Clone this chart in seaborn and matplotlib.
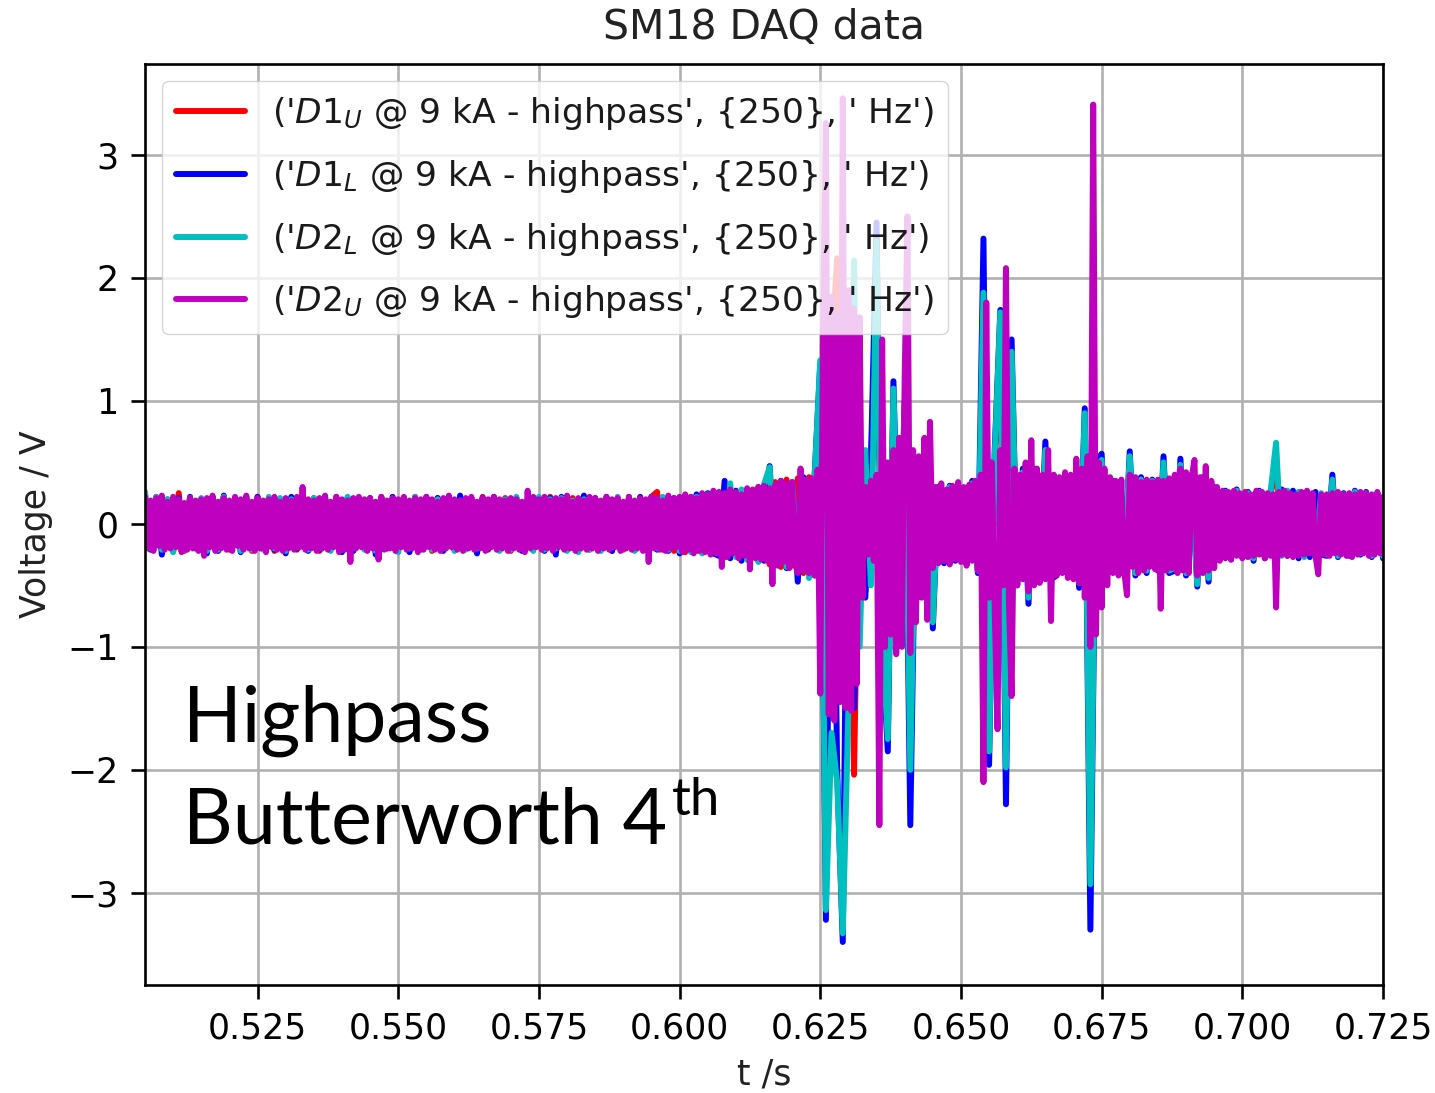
import numpy as np
import pandas as pd
import matplotlib
matplotlib.use("Agg")
import matplotlib.pyplot as plt
import seaborn as sns

# ---------------- data ----------------
T_START, T_END = 0.505, 0.725
STEP_FINE = 0.0005     # sampling used for D2_U trace
STEP_COARSE = 0.001    # sampling used for the other traces

labels = [
    "('$D1_U$ @ 9 kA - highpass', {250}, ' Hz')",
    "('$D1_L$ @ 9 kA - highpass', {250}, ' Hz')",
    "('$D2_L$ @ 9 kA - highpass', {250}, ' Hz')",
    "('$D2_U$ @ 9 kA - highpass', {250}, ' Hz')",
]
colors = ["r", "b", "c", "m"]

# values in hundredths of a volt
d1u_cV = [
    21,-20,22,-19,20,-21,25,-22,21,-20,
    20,-21,19,-20,22,-21,20,-19,21,-22,
    22,-20,21,-22,19,-20,21,-21,20,-19,
    21,-22,20,-20,22,-21,19,-22,21,-20,
    19,-21,22,-20,21,-19,20,-22,22,-21,
    20,-22,21,-19,20,-21,22,-20,19,-22,
    22,-21,20,-20,21,-22,19,-21,20,-20,
    21,-20,22,-21,19,-20,21,-22,20,-21,
    20,-19,21,-22,20,-21,22,-20,21,-19,
    22,26,-21,20,-22,21,-23,22,-22,23,
    24,-24,25,-27,28,-26,27,-29,28,-30,
    31,-33,34,-35,36,-34,37,-40,38,-42,
    120,-150,140,216,-140,130,-204,70,-55,45,
    200,-90,-160,100,-55,90,-190,38,-45,55,
    -70,28,-29,30,-27,28,-30,32,-36,150,
    -160,50,150,-170,120,-45,40,-55,40,-38,
    55,-40,-38,32,-36,30,-45,80,-250,40,
    48,-36,32,-34,-32,50,-38,34,-36,33,
    -34,46,-36,-34,45,-38,36,-45,34,-40,
    27,-25,25,-26,26,-25,24,-27,25,-26,
    24,50,-25,26,-24,25,-26,23,-25,24,
    -24,30,-25,23,-24,25,-23,24,-25,23,
    -25,
]

d1l_cV = [
    24,-21,20,-25,19,-22,21,-20,22,-19,
    20,-24,21,-22,23,-20,19,-23,21,-20,
    22,-19,20,-21,19,-24,22,-20,21,-22,
    20,-21,22,-20,19,-23,21,-22,20,-19,
    21,-25,19,-20,22,-21,20,-23,21,-20,
    22,-20,21,-22,19,-21,23,-20,20,-24,
    21,-20,22,-21,20,-19,21,-22,19,-20,
    20,-22,21,-25,22,-20,19,-21,23,-20,
    21,-20,22,-22,20,-19,21,-21,22,-20,
    22,-21,20,-22,21,-24,23,-22,24,-23,
    25,-24,-26,35,-28,27,-30,28,-27,30,
    -30,47,-33,35,-36,34,-47,38,-42,40,
    130,-322,150,-200,-340,120,-150,80,-60,50,
    245,-100,-185,116,-60,100,-245,40,-50,67,
    -85,30,-32,31,-30,29,-33,35,-40,232,
    -196,60,174,-228,150,-50,45,-65,45,-40,
    67,-45,-42,36,-40,35,-52,94,-330,50,
    57,-40,35,-38,-36,59,-42,38,-40,36,
    -38,55,-40,-38,53,-42,40,-51,38,-47,
    30,-28,27,-29,28,-27,26,-30,27,-28,
    26,-27,28,-26,27,-28,25,-27,26,-25,
    -26,40,-27,25,-26,27,-25,26,-27,25,
    -28,
]

d2l_cV = [
    26,-20,22,-21,20,-23,19,-21,21,-20,
    21,-22,20,-21,22,-19,21,-22,20,-21,
    19,-21,22,-20,21,-22,20,-19,22,-21,
    21,-20,19,-22,20,-21,22,-20,19,-21,
    20,-22,21,-19,20,-23,21,-20,22,-21,
    21,-21,20,-20,22,-22,19,-21,21,-20,
    20,-19,21,-22,20,-21,22,-20,19,-22,
    22,-21,20,-20,21,-22,19,-23,20,-21,
    20,-22,21,-19,22,-20,21,-22,20,-21,
    21,-20,22,-21,20,-22,21,-23,22,-24,
    24,-23,25,-26,33,-27,28,-29,27,-31,
    32,46,-34,33,-35,34,-37,36,-44,38,
    133,-314,-170,-210,-333,-150,214,-100,60,-50,
    230,-90,-175,110,-60,95,-200,40,-48,60,
    -80,28,-30,30,-28,27,-31,33,-38,188,
    -185,55,172,-198,140,-48,42,-60,42,-40,
    60,-42,-40,34,-38,33,-48,90,-293,45,
    52,-38,34,-36,-34,55,-40,36,-38,35,
    -36,50,-38,-36,48,-40,38,-49,36,-44,
    28,-26,26,-27,27,-26,25,-28,26,-27,
    25,66,-26,27,-25,26,-27,24,-26,25,
    -25,36,-26,24,-25,26,-24,25,-26,24,
    -26,
]

d2u_cV = [
    22,-20,19,-22,21,-18,23,-21,18,-20,22,-19,20,-23,17,-21,21,-20,19,-22,
    20,-26,21,-19,23,-22,18,-20,21,-21,19,-22,22,-18,20,-21,23,-20,18,-22,
    21,-20,19,-23,20,-19,22,-21,18,-22,21,-20,19,-21,22,-19,30,-21,20,-20,
    19,-22,21,-20,23,-21,18,-19,22,-23,20,-21,19,-31,21,-20,22,-19,20,-22,
    21,-20,18,-29,22,-21,19,-20,21,-22,20,-19,22,-21,19,-20,21,-23,20,-21,
    22,-19,20,-21,18,-22,21,-20,23,-19,20,-21,19,-22,21,-20,22,-21,18,-20,
    21,-22,20,-19,22,-21,20,-20,19,-22,21,-20,20,-21,18,-23,27,-20,22,-19,
    20,-21,22,-20,19,-22,21,-19,20,-21,23,-20,18,-22,21,-20,19,-21,22,-20,
    21,-22,19,-20,22,-21,20,-19,21,-22,18,-20,22,-21,19,-20,21,-22,20,-31,
    22,-20,21,-21,19,-22,23,-20,21,-19,22,-23,24,-21,22,-24,21,-22,25,-23,
    24,-25,27,-24,26,-35,25,-27,28,-24,26,-28,24,-26,29,-37,27,-28,30,-29,
    31,-30,29,-49,32,-34,35,-31,33,-36,34,-32,-40,45,-38,36,-40,37,-42,44,
    -138,160,326,-155,185,-160,170,-145,346,-150,190,-152,175,-130,168,-60,30,-25,35,-30,
    40,-245,150,-100,50,-90,60,-106,70,-100,120,250,-105,60,-80,55,-60,70,-78,83,
    -36,30,-32,33,-30,28,-33,31,-29,34,-31,30,-34,32,-30,35,-38,40,-210,180,
    -60,50,-70,-167,60,-50,208,-60,-140,45,-50,40,-45,50,-55,68,-50,45,-48,40,
    -45,60,-79,40,-42,38,-40,42,-44,40,-45,53,-48,45,-60,55,-100,341,-90,50,
    -68,45,-50,38,-40,35,-42,36,-38,-58,40,-35,38,-40,34,-38,36,-35,34,-37,
    36,-69,35,-38,37,-36,40,-40,45,-38,42,-40,38,52,-42,38,-40,47,-38,35,
    -36,30,-30,27,-28,26,-29,27,-26,25,-28,26,-27,24,-26,27,-25,26,-28,25,
    -26,24,-68,26,-25,27,-26,25,-27,24,-26,26,-25,27,-24,25,-26,-41,24,-25,
    24,-26,25,-24,26,-25,24,-26,25,-27,24,-25,26,-24,25,-26,24,-25,26,-24,
    22,
]

x_ticks = [0.525, 0.550, 0.575, 0.600, 0.625, 0.650, 0.675, 0.700, 0.725]
y_ticks = [-3, -2, -1, 0, 1, 2, 3]

# ---------------- build frames ----------------
def make_frame(cv, step):
    n = len(cv)
    t = np.round(T_START + step * np.arange(n), 6)
    return pd.DataFrame({"t": t, "V": np.asarray(cv, dtype=float) / 100.0})

series = [
    make_frame(d1u_cV, STEP_COARSE),
    make_frame(d1l_cV, STEP_COARSE),
    make_frame(d2l_cV, STEP_COARSE),
    make_frame(d2u_cV, STEP_FINE),
]

# ---------------- style ----------------
sns.set_style("ticks")
plt.rcParams["font.family"] = ["DejaVu Sans"]
plt.rcParams["mathtext.fontset"] = "dejavusans"
for k in ["text.color", "axes.labelcolor", "xtick.color", "ytick.color",
          "xtick.labelcolor", "ytick.labelcolor"]:
    plt.rcParams[k] = "black"

W, H = 1435, 1093
fig = plt.figure(figsize=(W / 100, H / 100), dpi=100)
ax = fig.add_axes([145 / W, 1 - 985 / H, (1383 - 145) / W, (985 - 64) / H])

LW = 4.3
for df, c, lab in zip(series, colors, labels):
    sns.lineplot(data=df, x="t", y="V", color=c, lw=LW, label=lab, ax=ax,
                 sort=False, estimator=None, legend=False)

ax.set_xlim(T_START, T_END)
ax.set_ylim(-3.75, 3.74)
ax.set_xticks(x_ticks)
ax.set_yticks(y_ticks)
ax.grid(True, color="#b0b0b0", lw=1.9)
ax.set_axisbelow(True)
for sp in ax.spines.values():
    sp.set_linewidth(1.9)
    sp.set_color("black")
ax.tick_params(axis="both", length=10, width=1.9, pad=9, labelsize=25,
               colors="black", direction="out")

ax.set_title("SM18 DAQ data", fontsize=29.5, pad=18, color="#222222")
ax.set_xlabel("t /s", fontsize=25, labelpad=9, color="#222222")
ax.set_ylabel("Voltage / V", fontsize=25, labelpad=10, color="#222222")

handles, labs = ax.get_legend_handles_labels()
leg = ax.legend(handles, labs, loc="upper left", fontsize=24.8, framealpha=0.8,
                handlelength=2.0, labelspacing=0.75)
for h in leg.get_lines():
    h.set_linewidth(LW)
for tx in leg.get_texts():
    tx.set_color("#1a1a1a")

# slide overlay text
fig.text(183 / W, 1 - 742 / H, "Highpass", fontsize=55.5, family="Lato",
         va="baseline", ha="left", color="black")
fig.text(183 / W, 1 - 843 / H, "Butterworth 4", fontsize=55.5, family="Lato",
         va="baseline", ha="left", color="black")
fig.text(672 / W, 1 - 815 / H, "th", fontsize=38, family="Lato",
         va="baseline", ha="left", color="black")

fig.savefig("out.png", dpi=100)
